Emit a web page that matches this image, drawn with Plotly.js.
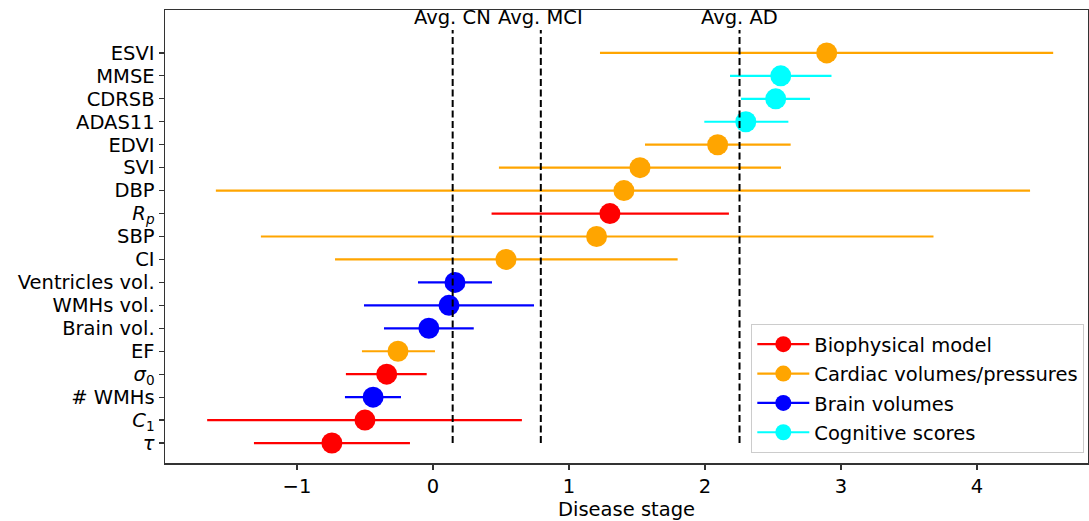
<!DOCTYPE html>
<html>
<head>
<meta charset="utf-8">
<script src="https://cdn.plot.ly/plotly-3.0.1.min.js"></script>
<style>html,body{margin:0;padding:0;background:#fff;}#chart{width:1089px;height:521px;}</style>
</head>
<body>
<div id="chart"></div>
<script>
// Categories, bottom to top
const categories = ["<i>τ</i>", "<i>C</i><sub>1</sub>", "# WMHs", "<i>σ</i><sub>0</sub>", "EF", "Brain vol.", "WMHs vol.", "Ventricles vol.", "CI", "SBP", "<i>R</i><sub><i>p</i></sub>", "DBP", "SVI", "EDVI", "ADAS11", "CDRSB", "MMSE", "ESVI"];
const stage  = [-0.743, -0.50, -0.44, -0.34, -0.257, -0.03, 0.118, 0.162, 0.537, 1.203, 1.301, 1.404, 1.522, 2.093, 2.30, 2.52, 2.557, 2.895];
const lower  = [-1.316, -1.66, -0.647, -0.64, -0.522, -0.36, -0.507, -0.11, -0.72, -1.265, 0.431, -1.596, 0.485, 1.559, 1.995, 2.265, 2.184, 1.228];
const upper  = [-0.169, 0.654, -0.235, -0.046, 0.015, 0.30, 0.743, 0.434, 1.799, 3.68, 2.176, 4.39, 2.559, 2.63, 2.613, 2.772, 2.93, 4.56];
const group  = ["bio", "bio", "brain", "bio", "cardiac", "brain", "brain", "brain", "cardiac", "cardiac", "bio", "cardiac", "cardiac", "cardiac", "cog", "cog", "cog", "cardiac"];

const groupKeys   = ["bio", "cardiac", "brain", "cog"];
const groupNames  = ["Biophysical model", "Cardiac volumes/pressures", "Brain volumes", "Cognitive scores"];
const groupColors = ["#ff0000", "#ffa500", "#0000ff", "#00ffff"];

const avgLabels = ["Avg. CN", "Avg. MCI", "Avg. AD"];
const avgStage  = [0.145, 0.793, 2.254];

const FONT = "DejaVu Sans, sans-serif";
const FS = 19.5;
const traces = [];
groupKeys.forEach((g, gi) => {
  const idx = group.map((v, i) => v === g ? i : -1).filter(i => i >= 0);
  traces.push({
    type: "scatter", mode: "markers",
    x: idx.map(i => stage[i]),
    y: idx.map(i => categories[i]),
    marker: {color: groupColors[gi], size: 21, line: {width: 0}},
    error_x: {type: "data", symmetric: false,
      array: idx.map(i => upper[i] - stage[i]),
      arrayminus: idx.map(i => stage[i] - lower[i]),
      color: groupColors[gi], thickness: 2.2, width: 0},
    showlegend: false, hoverinfo: "x+y"
  });
});
groupKeys.forEach((g, gi) => {
  traces.push({
    type: "scatter", mode: "lines+markers", x: [null], y: [null],
    name: groupNames[gi], legendgroup: g,
    line: {color: groupColors[gi], width: 2.2},
    marker: {color: groupColors[gi], size: 21},
    showlegend: true
  });
});

const shapes = avgStage.map(v => ({
  type: "line", xref: "x", yref: "y", x0: v, x1: v, y0: 0, y1: 18,
  line: {color: "#000", width: 2, dash: "7px,3.5px"}
}));
const annotations = avgStage.map((v, i) => ({
  x: v, xref: "x", y: 18.55, yref: "y", text: avgLabels[i], showarrow: false,
  xanchor: "center", yanchor: "middle", font: {family: FONT, size: FS, color: "#000"}
}));

const layout = {
  width: 1089, height: 521,
  margin: {l: 165, r: 1, t: 10, b: 58},
  paper_bgcolor: "#fff", plot_bgcolor: "#fff",
  font: {family: FONT, size: FS, color: "#000"},
  xaxis: {
    range: [-1.97, 4.816], tickvals: [-1, 0, 1, 2, 3, 4],
    showgrid: false, zeroline: false, showline: true, mirror: true,
    linecolor: "#333", linewidth: 1.5, ticks: "outside", ticklen: 5, tickwidth: 1.2, tickcolor: "#333",
    tickfont: {family: FONT, size: FS, color: "#000"},
    title: {text: "Disease stage", font: {family: FONT, size: FS, color: "#000"}, standoff: 8}
  },
  yaxis: {
    type: "category", categoryorder: "array", categoryarray: categories,
    tickmode: "array", tickvals: categories, ticktext: categories,
    range: [-0.87, 18.87],
    showgrid: false, zeroline: false, showline: true, mirror: true,
    linecolor: "#333", linewidth: 1.5, ticks: "outside", ticklen: 5, tickwidth: 1.2, tickcolor: "#333",
    tickfont: {family: FONT, size: FS, color: "#000"}
  },
  legend: {
    x: 0.996, xanchor: "right", y: 0.022, yanchor: "bottom",
    bgcolor: "rgba(255,255,255,0.8)", bordercolor: "#cccccc", borderwidth: 1,
    tracegroupgap: 1, itemwidth: 52,
    font: {family: FONT, size: FS, color: "#000"}
  },
  shapes: shapes,
  annotations: annotations,
  showlegend: true
};

Plotly.newPlot("chart", traces, layout, {displayModeBar: false, staticPlot: true});
</script>
</body>
</html>
